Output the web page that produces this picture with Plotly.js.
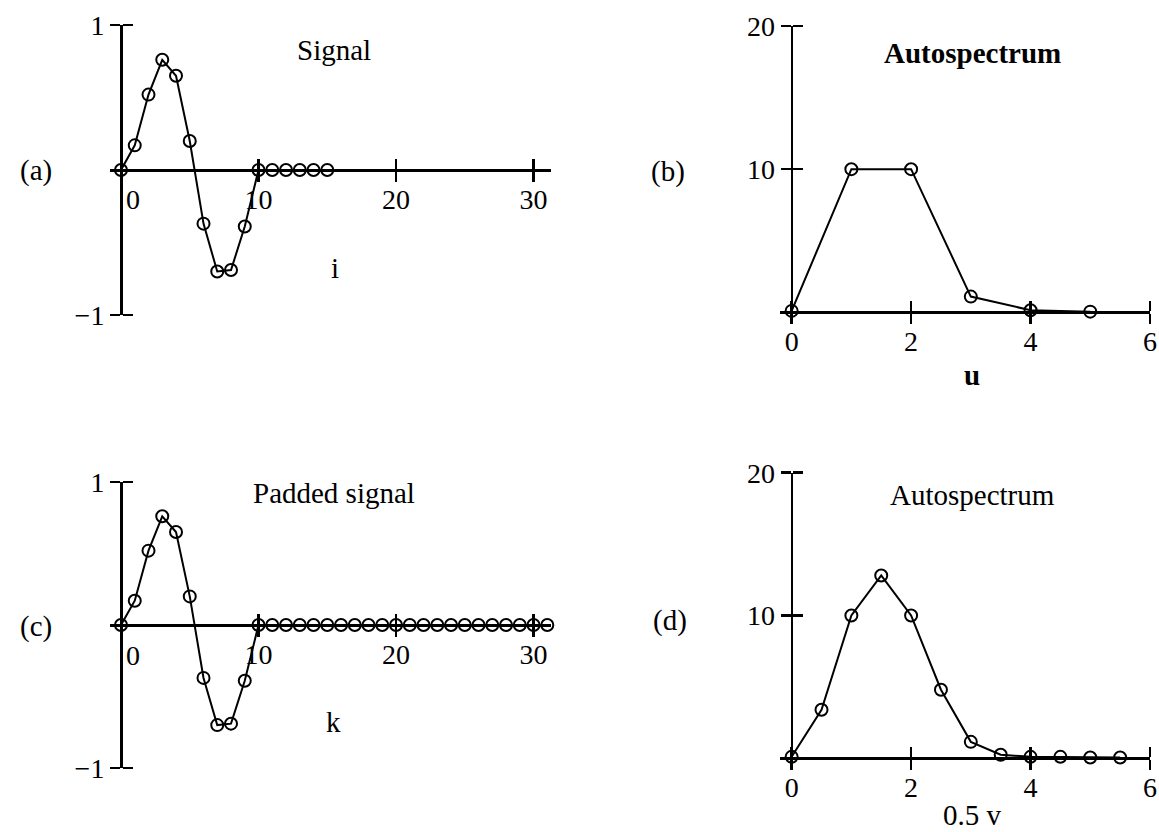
<!DOCTYPE html>
<html>
<head>
<meta charset="utf-8">
<script src="https://cdn.plot.ly/plotly-3.0.1.min.js"></script>
<style>
  html, body { margin: 0; padding: 0; background: #fff; }
  #chart { width: 1159px; height: 832px; }
</style>
</head>
<body>
<div id="chart"></div>
<script>
// ---- data ---------------------------------------------------------------
// (a) signal, samples i = 0..15
const signalIndex = [0, 1, 2, 3, 4, 5, 6, 7, 8, 9, 10, 11, 12, 13, 14, 15];
const signalValues = [0, 0.17, 0.52, 0.76, 0.65, 0.20, -0.37, -0.70, -0.69, -0.39,
                      0, 0, 0, 0, 0, 0];

// (c) the same signal padded with zeros, k = 0..31
const paddedIndex = [0, 1, 2, 3, 4, 5, 6, 7, 8, 9, 10, 11, 12, 13, 14, 15,
                     16, 17, 18, 19, 20, 21, 22, 23, 24, 25, 26, 27, 28, 29, 30, 31];
const paddedValues = [0, 0.17, 0.52, 0.76, 0.65, 0.20, -0.37, -0.70, -0.69, -0.39,
                      0, 0, 0, 0, 0, 0, 0, 0, 0, 0, 0, 0, 0, 0, 0, 0,
                      0, 0, 0, 0, 0, 0];

// (b) autospectrum of the signal, u = 0..5
const spectrumU = [0, 1, 2, 3, 4, 5];
const spectrumValues = [0.1, 10, 10, 1.1, 0.15, 0.05];

// (d) autospectrum of the padded signal, 0.5 v for v = 0..11
const paddedSpectrumX = [0, 0.5, 1, 1.5, 2, 2.5, 3, 3.5, 4, 4.5, 5, 5.5];
const paddedSpectrumValues = [0.1, 3.4, 10, 12.8, 10, 4.8, 1.15, 0.25, 0.1, 0.1, 0.05, 0.05];

// tick values and labels
const signalTickX = [10, 20, 30];
const signalTickXText = ['10', '20', '30'];
const signalTickY = [-1, 1];
const signalTickYText = ['\u22121', '1'];
const spectrumTickX = [0, 2, 4, 6];
const spectrumTickXText = ['0', '2', '4', '6'];
const spectrumTickY = [10, 20];
const spectrumTickYText = ['10', '20'];

// ---- page geometry --------------------------------------------------------
const W = 1159, H = 832;
const FONT = 'Liberation Serif, "Times New Roman", serif';
const px = v => v / W;
const py = v => 1 - v / H;

// each panel: pixel box of the axes, value ranges, ticks
const panels = [
  { n: 1, xBox: [110, 551], yBox: [25, 315], xRange: [-0.8, 31.27], yRange: [-1, 1],
    xTicks: signalTickX, xText: signalTickXText, yTicks: signalTickY, yText: signalTickYText,
    x: signalIndex, y: signalValues },
  { n: 2, xBox: [780, 1150], yBox: [26, 319.5], xRange: [-0.195, 6], yRange: [-0.5, 20],
    xTicks: spectrumTickX, xText: spectrumTickXText, yTicks: spectrumTickY, yText: spectrumTickYText,
    x: spectrumU, y: spectrumValues },
  { n: 3, xBox: [110, 551], yBox: [482, 768], xRange: [-0.8, 31.27], yRange: [-1, 1],
    xTicks: signalTickX, xText: signalTickXText, yTicks: signalTickY, yText: signalTickYText,
    x: paddedIndex, y: paddedValues },
  { n: 4, xBox: [780, 1150], yBox: [472.7, 765.4], xRange: [-0.195, 6], yRange: [-0.5, 20],
    xTicks: spectrumTickX, xText: spectrumTickXText, yTicks: spectrumTickY, yText: spectrumTickYText,
    x: paddedSpectrumX, y: paddedSpectrumValues }
];

const axisName = (letter, n) => letter + 'axis' + (n === 1 ? '' : n);
const axisRef = (letter, n) => letter + (n === 1 ? '' : n);

const tickFont = { family: FONT, size: 28, color: '#000' };
const labelFont = { family: FONT, size: 29, color: '#000' };
const common = {
  showgrid: false, zeroline: false, fixedrange: true,
  tickmode: 'array', tickcolor: '#000', tickwidth: 2.5, ticklen: 10
};
// inward half of the crossing ticks
const inwardTicks = vals => ({
  tickmode: 'array', tickvals: vals, ticks: 'inside',
  ticklen: 10, tickwidth: 2.5, tickcolor: '#000', showgrid: false
});

const layout = {
  width: W, height: H,
  margin: { l: 0, r: 0, t: 0, b: 0 },
  paper_bgcolor: '#fff', plot_bgcolor: 'rgba(0,0,0,0)',
  showlegend: false,
  font: { family: FONT, color: '#000' },
  annotations: []
};
const traces = [];

panels.forEach(p => {
  const xDom = [px(p.xBox[0]), px(p.xBox[1])];
  const yDom = [py(p.yBox[1]), py(p.yBox[0])];
  // axes cross at the origin
  const xAxisPos = yDom[0] + (0 - p.yRange[0]) / (p.yRange[1] - p.yRange[0]) * (yDom[1] - yDom[0]);
  const yAxisPos = xDom[0] + (0 - p.xRange[0]) / (p.xRange[1] - p.xRange[0]) * (xDom[1] - xDom[0]);

  layout[axisName('x', p.n)] = Object.assign({}, common, {
    domain: xDom, range: p.xRange, anchor: 'free', position: xAxisPos,
    showline: true, linecolor: '#000', linewidth: 2.5, ticks: 'outside',
    tickvals: p.xTicks, ticktext: p.xText, tickfont: tickFont, ticklabelstandoff: -6,
    minor: inwardTicks(p.xTicks)
  });
  layout[axisName('y', p.n)] = Object.assign({}, common, {
    domain: yDom, range: p.yRange, anchor: 'free', position: yAxisPos,
    showline: true, linecolor: '#000', linewidth: 2.5, ticks: 'outside',
    tickvals: p.yTicks, ticktext: p.yText, tickfont: tickFont, ticklabelstandoff: 0,
    minor: inwardTicks(p.yTicks)
  });

  traces.push({
    type: 'scatter', mode: 'lines+markers',
    x: p.x, y: p.y,
    xaxis: axisRef('x', p.n), yaxis: axisRef('y', p.n),
    line: { color: '#000', width: 2 },
    marker: { symbol: 'circle-open', size: 12, color: '#000', line: { width: 2, color: '#000' } },
    cliponaxis: false, hoverinfo: 'skip'
  });
});

// the origin label of the signal panels sits to the right of the vertical axis
[1, 3].forEach(n => {
  layout.annotations.push({
    xref: axisRef('x', n), yref: axisRef('y', n), x: 0, y: 0,
    xshift: 12, yshift: -30, text: '0', showarrow: false,
    font: tickFont, xanchor: 'center', yanchor: 'middle'
  });
});

// panel titles, axis names and panel letters
const labels = [
  { text: 'Signal', x: 334, y: 50 },
  { text: 'i', x: 335, y: 268 },
  { text: '(a)', x: 36, y: 170 },
  { text: '<b>Autospectrum</b>', x: 972, y: 53 },
  { text: '<b>u</b>', x: 972, y: 375 },
  { text: '(b)', x: 668, y: 171 },
  { text: 'Padded signal', x: 334, y: 493 },
  { text: 'k', x: 333, y: 722 },
  { text: '(c)', x: 36, y: 626 },
  { text: 'Autospectrum', x: 972, y: 495 },
  { text: '(d)', x: 670, y: 620 }
];
labels.forEach(l => {
  layout.annotations.push({
    xref: 'paper', yref: 'paper', x: px(l.x), y: py(l.y),
    xanchor: 'center', yanchor: 'middle', showarrow: false, text: l.text,
    font: labelFont
  });
});
// axis name of panel (d) sits right at the bottom edge of the page
layout.annotations.push({
  xref: 'paper', yref: 'paper', x: px(972), y: 0,
  xanchor: 'center', yanchor: 'bottom', showarrow: false, text: '0.5 v',
  font: labelFont, borderpad: 0
});

Plotly.newPlot('chart', traces, layout, { staticPlot: true, displayModeBar: false });
</script>
</body>
</html>
